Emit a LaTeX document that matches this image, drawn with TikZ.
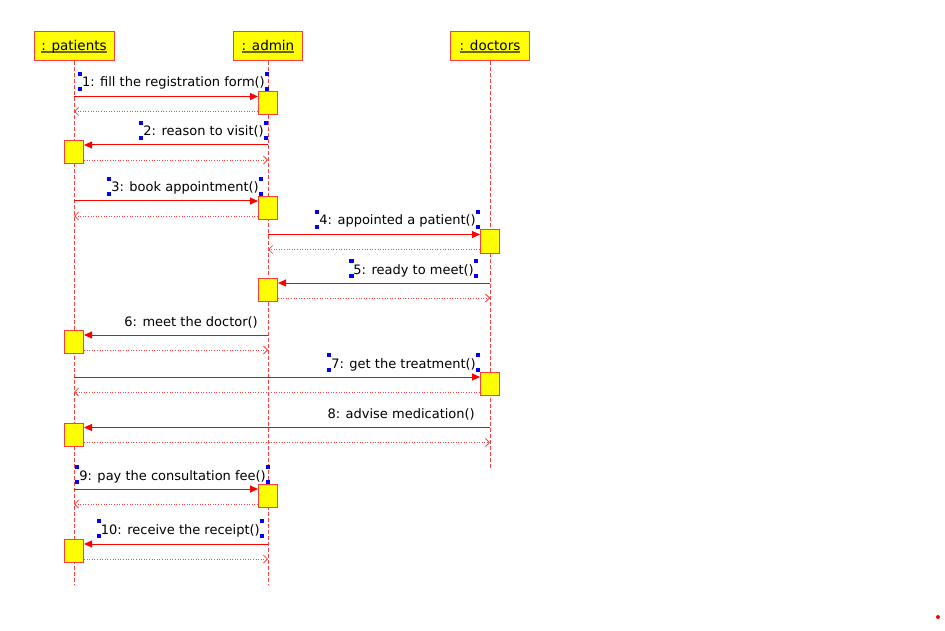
\documentclass[tikz,border=0pt]{standalone}
\usepackage{fontspec}
\setmainfont{DejaVu Sans}
\usetikzlibrary{arrows.meta,positioning,calc}
\definecolor{umlred}   {HTML}{FF0000}
\definecolor{boxred}   {HTML}{FF3C3C}
\definecolor{lifered}  {HTML}{FF4040}
\definecolor{umlyellow}{HTML}{FFFF00}
\definecolor{ulolive}  {HTML}{666600}
\definecolor{selblue}  {HTML}{0000FF}
\newcommand{\objname}[1]{\setbox0\hbox{#1}\rlap{\color{ulolive}\rule[-2.5pt]{\wd0}{1.6pt}}\box0}
\tikzset{
  objbox/.style   ={draw=boxred, fill=umlyellow, line width=1pt,
                    minimum height=29pt, inner xsep=6pt,
                    font=\fontsize{13.5}{16}\selectfont},
  actbox/.style   ={draw=boxred, fill=umlyellow, line width=1pt,
                    minimum width=19pt, minimum height=23pt, inner sep=0pt},
  lifeline/.style ={draw=lifered, line width=1pt, dash pattern=on 4pt off 2pt},
  callarr/.style  ={-{Triangle[length=8pt,width=7pt]}, umlred, line width=1pt},
  retarr/.style   ={-{Straight Barb[length=4pt,width=8pt]}, lifered, line width=0.8pt,
                    dash pattern=on 1pt off 1.6pt},
  msglabel/.style ={anchor=base east, inner xsep=2pt, inner ysep=0pt,
                    text height=13pt, text depth=2pt,
                    font=\fontsize{13}{15}\selectfont},
  handle/.style   ={fill=selblue, minimum size=4.5pt, inner sep=0pt},
}
\begin{document}
\begin{tikzpicture}[x=1pt,y=-1pt]
    \useasboundingbox (0,0) rectangle (945,631);

    % objects and lifelines
    \node[objbox,minimum width=80pt] (pat) at (74,46.5)  {\objname{: patients}};
    \node[objbox,minimum width=69pt] (adm) at (268,46.5) {\objname{: admin}};
    \node[objbox,minimum width=79pt] (doc) at (490,46.5) {\objname{: doctors}};
    \coordinate (patend) at (74,585);
    \coordinate (admend) at (268,585);
    \coordinate (docend) at (490,468);
    \draw[lifeline] (pat.south) -- (patend);
    \draw[lifeline] (adm.south) -- (admend);
    \draw[lifeline] (doc.south) -- (docend);

    % activations
    \node[actbox] (a1)  at (268,103.5) {};
    \node[actbox] (a2)  at (74,152)    {};
    \node[actbox] (a3)  at (268,208)   {};
    \node[actbox] (a4)  at (490,241.5) {};
    \node[actbox] (a5)  at (268,290)   {};
    \node[actbox] (a6)  at (74,342)    {};
    \node[actbox] (a7)  at (490,384)   {};
    \node[actbox] (a8)  at (74,434.5)  {};
    \node[actbox] (a9)  at (268,496)   {};
    \node[actbox] (a10) at (74,551)    {};

    % message labels
    \node[msglabel] (m1)  at (267,87)  {1: fill the registration form()};
    \node[msglabel] (m2)  at (266,136) {2: reason to visit()};
    \node[msglabel] (m3)  at (261,192) {3: book appointment()};
    \node[msglabel] (m4)  at (478,225) {4: appointed a patient()};
    \node[msglabel] (m5)  at (476,274) {5: ready to meet()};
    \node[msglabel] (m6)  at (260,326) {6: meet the doctor()};
    \node[msglabel] (m7)  at (478,368) {7: get the treatment()};
    \node[msglabel] (m8)  at (477,418) {8: advise medication()};
    \node[msglabel] (m9)  at (268,480) {9: pay the consultation fee()};
    \node[msglabel] (m10) at (262,534) {10: receive the receipt()};

    \foreach \m in {m1,m2,m3,m4,m5,m7,m9,m10}
      \foreach \c/\k in {north west/nw,north east/ne,south west/sw,south east/se}
        \node[handle] (\m\k) at (\m.\c) {};

    % calls and returns
    \draw[callarr] ($(a1.north west -| pat)+(0,5)$) -- ($(a1.north west)+(0,5)$);
    \draw[retarr]  ($(a1.south west)+(0,-4)$) -- ($(a1.south west -| pat)+(0,-4)$);

    \draw[callarr] ($(a2.north east -| adm)+(0,5)$) -- ($(a2.north east)+(0,5)$);
    \draw[retarr]  ($(a2.south east)+(0,-4)$) -- ($(a2.south east -| adm)+(0,-4)$);

    \draw[callarr] ($(a3.north west -| pat)+(0,5)$) -- ($(a3.north west)+(0,5)$);
    \draw[retarr]  ($(a3.south west)+(0,-4)$) -- ($(a3.south west -| pat)+(0,-4)$);

    \draw[callarr] ($(a4.north west -| adm)+(0,5)$) -- ($(a4.north west)+(0,5)$);
    \draw[retarr]  ($(a4.south west)+(0,-4)$) -- ($(a4.south west -| adm)+(0,-4)$);

    \draw[callarr] ($(a5.north east -| doc)+(0,5)$) -- ($(a5.north east)+(0,5)$);
    \draw[retarr]  ($(a5.south east)+(0,-4)$) -- ($(a5.south east -| doc)+(0,-4)$);

    \draw[callarr] ($(a6.north east -| adm)+(0,5)$) -- ($(a6.north east)+(0,5)$);
    \draw[retarr]  ($(a6.south east)+(0,-4)$) -- ($(a6.south east -| adm)+(0,-4)$);

    \draw[callarr] ($(a7.north west -| pat)+(0,5)$) -- ($(a7.north west)+(0,5)$);
    \draw[retarr]  ($(a7.south west)+(0,-4)$) -- ($(a7.south west -| pat)+(0,-4)$);

    \draw[callarr] ($(a8.north east -| doc)+(0,5)$) -- ($(a8.north east)+(0,5)$);
    \draw[retarr]  ($(a8.south east)+(0,-4)$) -- ($(a8.south east -| doc)+(0,-4)$);

    \draw[callarr] ($(a9.north west -| pat)+(0,5)$) -- ($(a9.north west)+(0,5)$);
    \draw[retarr]  ($(a9.south west)+(0,-4)$) -- ($(a9.south west -| pat)+(0,-4)$);

    \draw[callarr] ($(a10.north east -| adm)+(0,5)$) -- ($(a10.north east)+(0,5)$);
    \draw[retarr]  ($(a10.south east)+(0,-4)$) -- ($(a10.south east -| adm)+(0,-4)$);

    \fill[umlred] (938,617) circle (2);
\end{tikzpicture}
\end{document}
